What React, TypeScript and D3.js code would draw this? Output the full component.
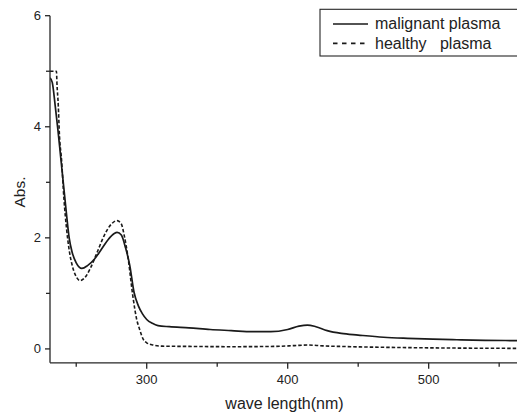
import React from "react";
import * as d3 from "d3";

const malignantWl = [231.4, 233, 235, 237, 239, 241, 243, 245, 247, 250, 254, 258, 263, 268, 273, 277, 279, 282, 285, 288, 291, 294, 297, 300, 304, 308, 316, 330, 345, 360, 375, 388, 400, 408, 414, 420, 428, 438, 450, 468, 485, 503, 520, 540, 563];
const malignantAbs = [4.88, 4.8, 4.4, 3.95, 3.45, 2.95, 2.45, 2.0, 1.75, 1.55, 1.45, 1.5, 1.62, 1.8, 1.98, 2.08, 2.1, 2.05, 1.82, 1.5, 1.02, 0.78, 0.63, 0.53, 0.46, 0.42, 0.4, 0.38, 0.35, 0.33, 0.31, 0.31, 0.35, 0.41, 0.43, 0.4, 0.33, 0.28, 0.25, 0.21, 0.19, 0.175, 0.165, 0.155, 0.15];

const healthyWl = [231.4, 236.0, 236.3, 237.3, 238, 239.6, 241.3, 243.2, 245, 247, 250, 252.7, 256, 260, 265, 270, 275, 279, 282, 284, 287, 290, 293, 295, 297.6, 300, 304.5, 311, 330, 360, 390, 405, 414, 425, 445, 480, 520, 563];
const healthyAbs = [5.0, 5.0, 4.8, 4.37, 3.9, 3.4, 2.7, 2.15, 1.78, 1.52, 1.3, 1.23, 1.28, 1.45, 1.75, 2.05, 2.25, 2.31, 2.25, 2.05, 1.6, 0.98, 0.52, 0.35, 0.17, 0.11, 0.07, 0.05, 0.045, 0.04, 0.045, 0.06, 0.07, 0.055, 0.04, 0.025, 0.015, 0.01];

const xMajorTicks = [300, 400, 500];
const xMinorTicks = [250, 350, 450, 550];
const yMajorTicks = [0, 2, 4, 6];
const yMinorTicks = [1, 3, 5];

const seriesNames = ["malignant plasma", "healthy   plasma"];

const W = 517;
const H = 413;
const axisColor = "#262626";
const lineColor = "#1a1a1a";
const font = "'Liberation Sans', Arial, sans-serif";

export default function App() {
  const x = d3.scaleLinear().domain([231.4, 563]).range([50, 517.5]);
  const y = d3.scaleLinear().domain([-0.25, 6]).range([362.8, 15.7]);

  const line = d3
    .line<[number, number]>()
    .x((d) => x(d[0]))
    .y((d) => y(d[1]))
    .curve(d3.curveMonotoneX);

  const mal: [number, number][] = malignantWl.map((w, i) => [w, malignantAbs[i]]);
  const hea: [number, number][] = healthyWl.map((w, i) => [w, healthyAbs[i]]);

  const x0 = x(231.4);
  const yb = y(-0.25);

  return (
    <svg
      width={W}
      height={H}
      style={{ position: "absolute", left: 0, top: 0, background: "#fff" }}
    >
      <rect x={0} y={0} width={W} height={H} fill="#fff" />
      <defs>
        <clipPath id="plotclip">
          <rect x={x0} y={0} width={W - x0 + 2} height={yb} />
        </clipPath>
      </defs>

      {/* data */}
      <g clipPath="url(#plotclip)" fill="none">
        <path d={line(hea) || ""} stroke={lineColor} strokeWidth={1.6} strokeDasharray="3.5,2" />
        <path d={line(mal) || ""} stroke={lineColor} strokeWidth={1.7} />
      </g>

      {/* axes */}
      <g stroke={axisColor} strokeWidth={1.3} fill="none">
        <line x1={x0} y1={y(6)} x2={x0} y2={yb} />
        <line x1={x0} y1={yb} x2={W + 2} y2={yb} />
        {yMajorTicks.map((t) => (
          <line key={"ym" + t} x1={x0 - 5} x2={x0} y1={y(t)} y2={y(t)} />
        ))}
        {yMinorTicks.map((t) => (
          <line key={"yn" + t} x1={x0 - 4} x2={x0} y1={y(t)} y2={y(t)} />
        ))}
        {xMajorTicks.map((t) => (
          <line key={"xm" + t} x1={x(t)} x2={x(t)} y1={yb} y2={yb + 6} />
        ))}
        {xMinorTicks.map((t) => (
          <line key={"xn" + t} x1={x(t)} x2={x(t)} y1={yb} y2={yb + 4} />
        ))}
      </g>

      <g fill="#222" fontFamily={font} fontSize={13}>
        {yMajorTicks.map((t) => (
          <text key={"yl" + t} x={x0 - 9} y={y(t)} dy="0.35em" textAnchor="end">
            {t}
          </text>
        ))}
        {xMajorTicks.map((t) => (
          <text key={"xl" + t} x={x(t)} y={yb + 21} textAnchor="middle">
            {t}
          </text>
        ))}
      </g>

      <text
        x={284.5}
        y={409}
        textAnchor="middle"
        fontFamily={font}
        fontSize={16}
        fill="#222"
      >
        wave length(nm)
      </text>
      <text
        transform={`translate(25,192) rotate(-90)`}
        textAnchor="middle"
        fontFamily={font}
        fontSize={15.5}
        fill="#222"
      >
        Abs.
      </text>

      {/* legend */}
      <rect x={320} y={9.3} width={220} height={46.7} fill="#fff" stroke={axisColor} strokeWidth={1.1} />
      <line x1={333} x2={368} y1={24} y2={24} stroke={lineColor} strokeWidth={1.7} />
      <line x1={333} x2={368} y1={43.3} y2={43.3} stroke={lineColor} strokeWidth={1.7} strokeDasharray="4.5,4.5" />
      <text x={375} y={29} fontFamily={font} fontSize={16} fill="#222">
        {seriesNames[0]}
      </text>
      <text x={375} y={48.5} fontFamily={font} fontSize={16} fill="#222" style={{ whiteSpace: "pre" }}>
        {seriesNames[1]}
      </text>
    </svg>
  );
}
